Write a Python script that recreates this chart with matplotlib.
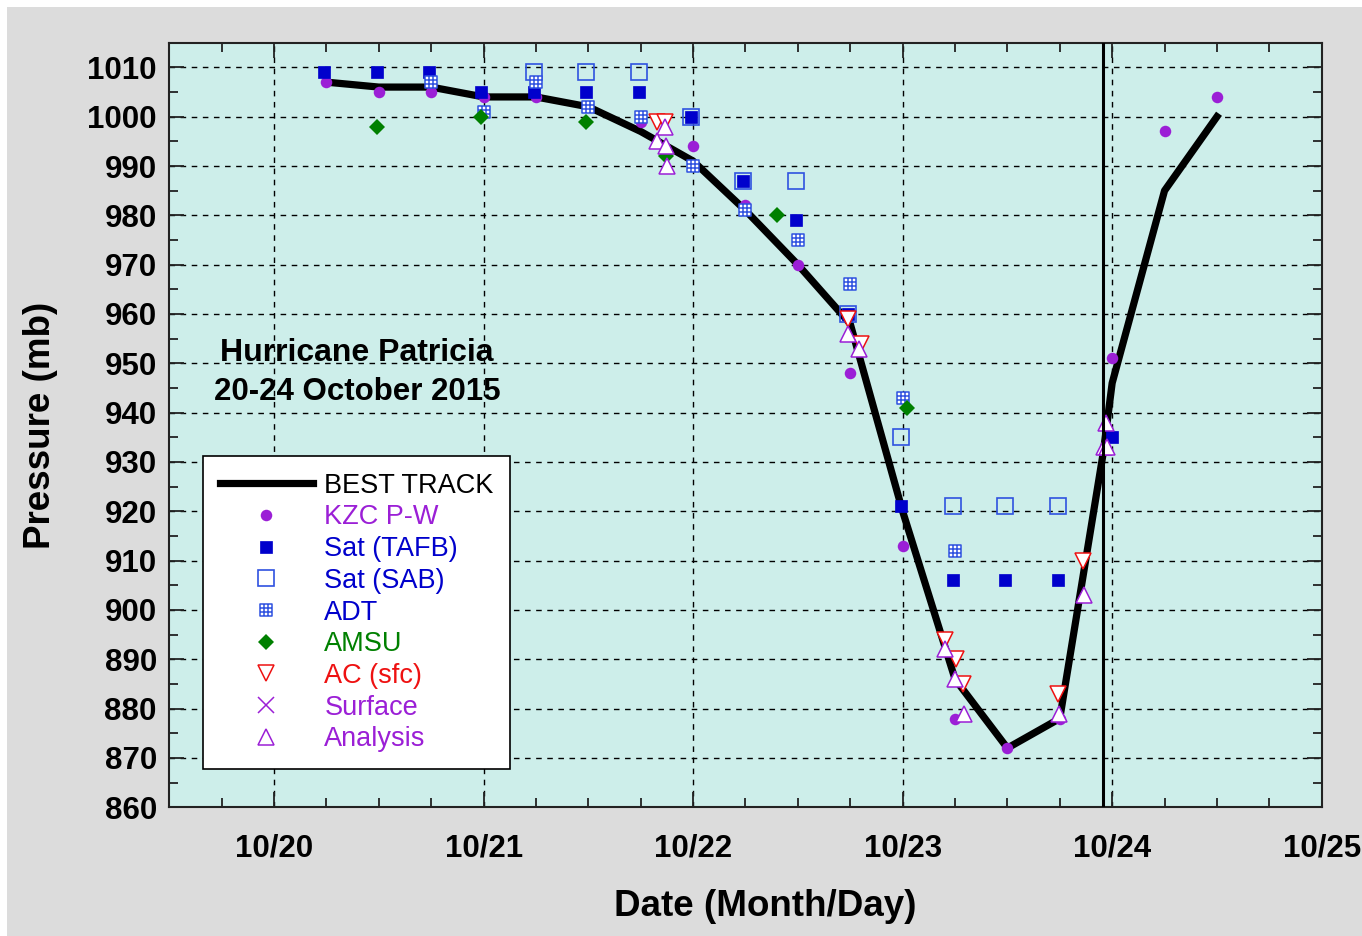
import matplotlib
matplotlib.use("Agg")
import matplotlib.pyplot as plt
from matplotlib.lines import Line2D
from matplotlib.path import Path
from matplotlib.patches import Rectangle
import numpy as np

plt.rcParams['font.family'] = ['Liberation Sans', 'DejaVu Sans']

# Dates are decimal days of October 2015 (UTC)
bt_day = [20.25, 20.5, 20.75, 21.0, 21.25, 21.5, 21.75, 22.0, 22.25, 22.5,
          22.75, 23.0, 23.25, 23.5, 23.75, 23.958, 24.0, 24.25, 24.5]
bt_p = [1007, 1006, 1006, 1004, 1004, 1002, 997, 991, 981, 970,
        958, 920, 886, 872, 878, 932, 946, 985, 1000]

kzc_day = [20.25, 20.5, 20.75, 21.0, 21.25, 21.75, 22.0, 22.25, 22.5, 22.75,
           23.0, 23.25, 23.5, 23.75, 24.0, 24.25, 24.5]
kzc_p = [1007, 1005, 1005, 1004, 1004, 999, 994, 982, 970, 948,
         913, 878, 872, 878, 951, 997, 1004]

tafb_day = [20.24, 20.49, 20.74, 20.99, 21.24, 21.49, 21.74, 21.99, 22.24, 22.49,
            22.74, 22.99, 23.24, 23.49, 23.74, 24.0]
tafb_p = [1009, 1009, 1009, 1005, 1005, 1005, 1005, 1000, 987, 979,
          960, 921, 906, 906, 906, 935]

sab_day = [21.24, 21.49, 21.74, 21.99, 22.24, 22.49, 22.74, 22.99, 23.24, 23.49, 23.74]
sab_p = [1009, 1009, 1009, 1000, 987, 987, 960, 935, 921, 921, 921]

adt_day = [20.75, 21.0, 21.25, 21.5, 21.75, 22.0, 22.25, 22.5, 22.75, 23.0, 23.25]
adt_p = [1007, 1001, 1007, 1002, 1000, 990, 981, 975, 966, 943, 912]

amsu_day = [20.49, 20.99, 21.49, 21.87, 22.4, 23.02]
amsu_p = [998, 1000, 999, 992, 980, 941]

ac_day = [21.83, 21.865, 22.74, 22.8, 23.2, 23.255, 23.29, 23.74, 23.86]
ac_p = [999, 999, 959, 954, 894, 890, 885, 883, 910]

sfc_day = []
sfc_p = []

an_day = [21.865, 21.83, 21.87, 21.875, 22.74, 22.79, 23.2, 23.25, 23.295,
          23.745, 23.865, 23.97, 23.962, 23.975]
an_p = [998, 995, 994, 990, 956, 953, 892, 886, 879,
        879, 903, 938, 933, 933]

landfall_day = 23.958

xticks = [20, 21, 22, 23, 24, 25]
xticklabels = ['10/20', '10/21', '10/22', '10/23', '10/24', '10/25']

# ADT marker: square with a 3x3 grid inside
adt_verts = [(-1, -1), (1, -1), (1, 1), (-1, 1), (-1, -1),
             (-1/3, -1), (-1/3, 1), (1/3, -1), (1/3, 1),
             (-1, -1/3), (1, -1/3), (-1, 1/3), (1, 1/3)]
adt_codes = [Path.MOVETO, Path.LINETO, Path.LINETO, Path.LINETO, Path.CLOSEPOLY,
             Path.MOVETO, Path.LINETO, Path.MOVETO, Path.LINETO,
             Path.MOVETO, Path.LINETO, Path.MOVETO, Path.LINETO]
adt_marker = Path(adt_verts, adt_codes)

purple = '#9b1fd6'
blue = '#0000cc'
sab_blue = '#2f52e0'
green = '#008000'
red = '#ee1111'

fig = plt.figure(figsize=(13.62, 9.36), dpi=100)
fig.patch.set_facecolor('white')
fig.patches.append(Rectangle((7 / 1362, 0), 1, 1 - 7 / 936, transform=fig.transFigure,
                             facecolor='#dcdcdc', edgecolor='none', zorder=-10))
ax = fig.add_axes([0.1243, 0.1375, 0.8461, 0.8169])
ax.set_facecolor('#cdeeea')

styles = {
    'kzc': dict(marker='o', ms=8.3, mfc=purple, mec=purple, mew=0, ls='none', color=purple),
    'tafb': dict(marker='s', ms=8.6, mfc=blue, mec=blue, mew=0.5, ls='none', color=blue),
    'sab': dict(marker='s', ms=11.5, mfc='none', mec=sab_blue, mew=1.2, ls='none', color=sab_blue),
    'adt': dict(marker=adt_marker, ms=8, mfc='white', mec=sab_blue, mew=1.1, ls='none', color=sab_blue),
    'amsu': dict(marker='D', ms=8.3, mfc=green, mec=green, mew=0, ls='none', color=green),
    'ac': dict(marker='v', ms=11.5, mfc='white', mec=red, mew=1.1, ls='none', color=red),
    'sfc': dict(marker='x', ms=11, mec=purple, mew=1.1, ls='none', color=purple),
    'an': dict(marker='^', ms=11.5, mfc='white', mec=purple, mew=1.1, ls='none', color=purple),
}

ax.plot(bt_day, bt_p, color='black', lw=5.2, solid_joinstyle='round', zorder=3)
ax.plot(kzc_day, kzc_p, zorder=4, **styles['kzc'])
ax.plot(tafb_day, tafb_p, zorder=5, **styles['tafb'])
ax.plot(sab_day, sab_p, zorder=5, **styles['sab'])
ax.plot(adt_day, adt_p, zorder=6, **styles['adt'])
ax.plot(amsu_day, amsu_p, zorder=6, **styles['amsu'])
ax.plot(ac_day, ac_p, zorder=7, **styles['ac'])
ax.plot(sfc_day, sfc_p, zorder=7, **styles['sfc'])
ax.plot(an_day, an_p, zorder=8, **styles['an'])
ax.axvline(landfall_day, color='black', lw=2.2, zorder=9)

ax.set_xlim(19.5, 25)
ax.set_ylim(860, 1015)
ax.set_xticks(xticks)
ax.set_xticklabels(xticklabels)
ax.set_xticks(np.arange(19.5, 25.01, 0.25), minor=True)
ax.set_yticks(np.arange(860, 1011, 10))
ax.set_yticks(np.arange(860, 1015, 5), minor=True)
ax.grid(True, which='major', color='black', ls=(0, (4, 4)), lw=1.0, zorder=1)
ax.set_axisbelow(True)

ax.tick_params(which='both', direction='in', top=True, right=True, width=1.3, color='#222222')
ax.tick_params(which='major', length=11)
ax.tick_params(which='minor', length=6.5)
ax.tick_params(axis='x', labelsize=22.5, pad=19)
ax.tick_params(axis='y', labelsize=22.5, pad=9)
for lab in ax.get_xticklabels() + ax.get_yticklabels():
    lab.set_fontweight('bold')
for sp in ax.spines.values():
    sp.set_linewidth(1.5)
    sp.set_color('#222222')

ax.set_xlabel('Date (Month/Day)', fontsize=26.5, fontweight='bold', va='center')
ax.xaxis.set_label_coords(0.517, -0.130)
ax.set_ylabel('Pressure (mb)', fontsize=26.5, fontweight='bold', va='center')
ax.yaxis.set_label_coords(-0.112, 0.5)

ax.text(0.163, 0.594, 'Hurricane Patricia', transform=ax.transAxes, ha='center',
        va='center', fontsize=23, fontweight='bold', zorder=10)
ax.text(0.163, 0.543, '20-24 October 2015', transform=ax.transAxes, ha='center',
        va='center', fontsize=22.5, fontweight='bold', zorder=10)

labels = ['BEST TRACK', 'KZC P-W', 'Sat (TAFB)', 'Sat (SAB)', 'ADT', 'AMSU',
          'AC (sfc)', 'Surface', 'Analysis']
label_colors = ['black', purple, blue, blue, blue, green, red, purple, purple]
handles = [Line2D([], [], color='black', lw=5.2)]
for key in ['kzc', 'tafb', 'sab', 'adt', 'amsu', 'ac', 'sfc', 'an']:
    handles.append(Line2D([], [], **styles[key]))
leg = ax.legend(handles, labels, loc='lower left', bbox_to_anchor=(0.029, 0.050),
                borderaxespad=0, fontsize=19.5, frameon=True, fancybox=False,
                edgecolor='black', facecolor='white', framealpha=1,
                handlelength=3.45, handletextpad=0.42, labelspacing=0.21,
                borderpad=0.62, numpoints=1)
leg.get_frame().set_linewidth(1.2)
leg.set_zorder(20)
for txt, c in zip(leg.get_texts(), label_colors):
    txt.set_color(c)

fig.savefig('out.png', dpi=100, facecolor=fig.get_facecolor())
